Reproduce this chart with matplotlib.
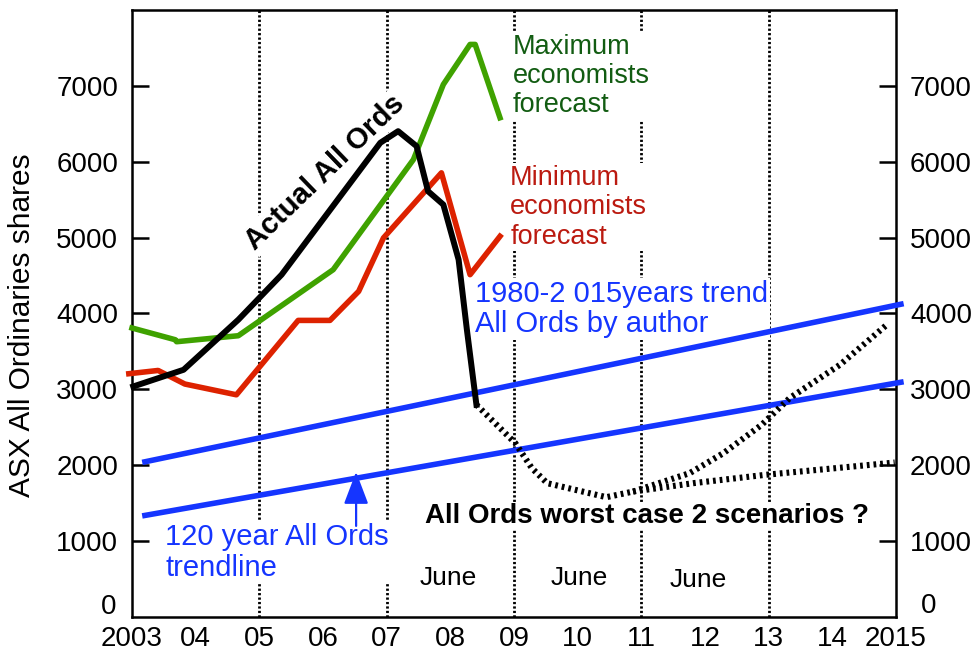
import numpy as np
import matplotlib
matplotlib.use("Agg")
import matplotlib.pyplot as plt

plt.rcParams['font.family'] = ['Liberation Sans', 'DejaVu Sans']

# Data
years = list(range(2003, 2016))
year_labels = ["2003", "04", "05", "06", "07", "08", "09", "10", "11", "12", "13", "14", "2015"]
dotted_years = [2005, 2007, 2009, 2011, 2013]
tick_years = [2004, 2006, 2008, 2010, 2012, 2014]
y_ticks = [1000, 2000, 3000, 4000, 5000, 6000, 7000]

actual_x = [2003.02, 2003.81, 2004.67, 2005.35, 2006.90, 2007.18, 2007.47, 2007.65, 2007.89, 2008.13, 2008.26, 2008.41]
actual_y = [3036, 3256, 3916, 4510, 6249, 6402, 6204, 5610, 5434, 4708, 3784, 2794]

max_x = [2003.0, 2003.68, 2003.7, 2004.67, 2006.16, 2007.42, 2007.89, 2008.31, 2008.39, 2008.78]
max_y = [3807, 3652, 3626, 3705, 4576, 6028, 7018, 7546, 7546, 6579]

min_x = [2002.95, 2003.41, 2003.83, 2004.64, 2005.61, 2006.11, 2006.56, 2006.95, 2007.86, 2008.31, 2008.78]
min_y = [3204, 3247, 3068, 2926, 3907, 3907, 4290, 4995, 5853, 4510, 5016]

trend_x = [2003.16, 2015.12]
trend1980_y = [2035, 4128]
trend120_y = [1329, 3098]

worst_common_x = [2008.41, 2009.02, 2009.28, 2009.52, 2010.45, 2010.87]
worst_common_y = [2794, 2289, 1959, 1761, 1576, 1650]
worst_low_x = [2010.87, 2011.82, 2012.94, 2014.98]
worst_low_y = [1650, 1761, 1870, 2033]
worst_high_x = [2010.87, 2011.76, 2012.29, 2012.89, 2013.33, 2014.12, 2014.87]
worst_high_y = [1650, 1893, 2157, 2530, 2883, 3322, 3860]

arrow_x = 2006.52
arrow_y = [1197, 1910]

june_x = [2007.96, 2010.02, 2011.9]
june_y = [418, 418, 390]

black = "#000000"
green = "#3fa200"
green_txt = "#125c12"
red = "#dd2200"
red_txt = "#bb1a10"
blue = "#1535ff"

fig = plt.figure(figsize=(9.75, 6.56), dpi=100)
ax = fig.add_axes([132/975, 1-616.7/656, (896-132)/975, (616.7-10)/656])
ax.set_xlim(2003, 2015)
ax.set_ylim(0, 8000)

for s in ax.spines.values():
    s.set_linewidth(1.8)

# dotted year lines
for yr in dotted_years:
    ax.axvline(yr, color=black, lw=2, ls=(0, (0.8, 0.8)), zorder=1)

wbox = dict(facecolor="white", edgecolor="none", pad=1)

ax.plot(trend_x, trend1980_y, color=blue, lw=4, zorder=4, clip_on=False, solid_capstyle='butt')
ax.plot(trend_x, trend120_y, color=blue, lw=4, zorder=4, clip_on=False, solid_capstyle='butt')
ax.plot(max_x, max_y, color=green, lw=4, zorder=5, clip_on=False)
ax.plot(min_x, min_y, color=red, lw=4, zorder=5, clip_on=False)
ax.plot(actual_x, actual_y, color=black, lw=4.3, zorder=6, clip_on=False)

dash = dict(color=black, lw=4.4, ls=(0, (0.45, 0.65)), zorder=6, clip_on=False)
ax.plot(worst_common_x, worst_common_y, **dash)
ax.plot(worst_low_x, worst_low_y, **dash)
ax.plot(worst_high_x, worst_high_y, **dash)

ax.annotate("", xy=(arrow_x, arrow_y[1]), xytext=(arrow_x, arrow_y[0]),
            arrowprops=dict(arrowstyle="-|>,head_length=0.5,head_width=0.19",
                            color=blue, lw=1.6, mutation_scale=40, shrinkA=0, shrinkB=0),
            zorder=4)

# texts
ax.text(2006.03, 5857, "Actual All Ords", rotation=44, fontsize=21, fontweight="bold",
        ha="center", va="center", rotation_mode="anchor", bbox=wbox, zorder=2)
ax.text(2008.98, 7690, "Maximum\neconomists\nforecast", color=green_txt, fontsize=19.5,
        ha="left", va="top", linespacing=1.17, bbox=wbox, zorder=2)
ax.text(2008.94, 5960, "Minimum\neconomists\nforecast", color=red_txt, fontsize=19.5,
        ha="left", va="top", linespacing=1.17, bbox=wbox, zorder=2)
ax.text(2008.39, 4444, "1980-2 015years trend\nAll Ords by author", color=blue, fontsize=21,
        ha="left", va="top", linespacing=1.12, bbox=wbox, zorder=2)
ax.text(2003.52, 1237, "120 year All Ords\ntrendline", color=blue, fontsize=21,
        ha="left", va="top", linespacing=1.15, bbox=wbox, zorder=2)
ax.text(2007.6, 1237, "All Ords worst case 2 scenarios ?", fontsize=20, fontweight="bold",
        ha="left", va="baseline", bbox=wbox, zorder=2)
for jx, jy in zip(june_x, june_y):
    ax.text(jx, jy, "June", fontsize=19, ha="center", va="baseline", zorder=2)

# axes ticks
ax.set_xticks(years)
ax.set_xticklabels(year_labels)
ax.set_xticks(tick_years, minor=True)
ax.tick_params(axis="x", which="major", length=0, labelsize=20, pad=7)
ax.tick_params(axis="x", which="minor", direction="in", length=14, width=1.8, top=False)

ax.set_yticks(y_ticks)
ax.tick_params(axis="y", which="major", direction="in", length=12, width=1.8,
               left=True, right=True, labelleft=True, labelright=True, labelsize=20, pad=10)

ax.annotate("0", xy=(0, 0), xycoords=("axes fraction", "data"), xytext=(-11, 7),
            textcoords="offset points", ha="right", va="center", fontsize=20)
ax.annotate("0", xy=(1, 0), xycoords=("axes fraction", "data"), xytext=(18, 8),
            textcoords="offset points", ha="left", va="center", fontsize=20)

fig.text(22/975, 1-325/656, "ASX All Ordinaries shares", rotation=90, fontsize=21.5,
         ha="center", va="center")

fig.savefig("out.png", dpi=100)
